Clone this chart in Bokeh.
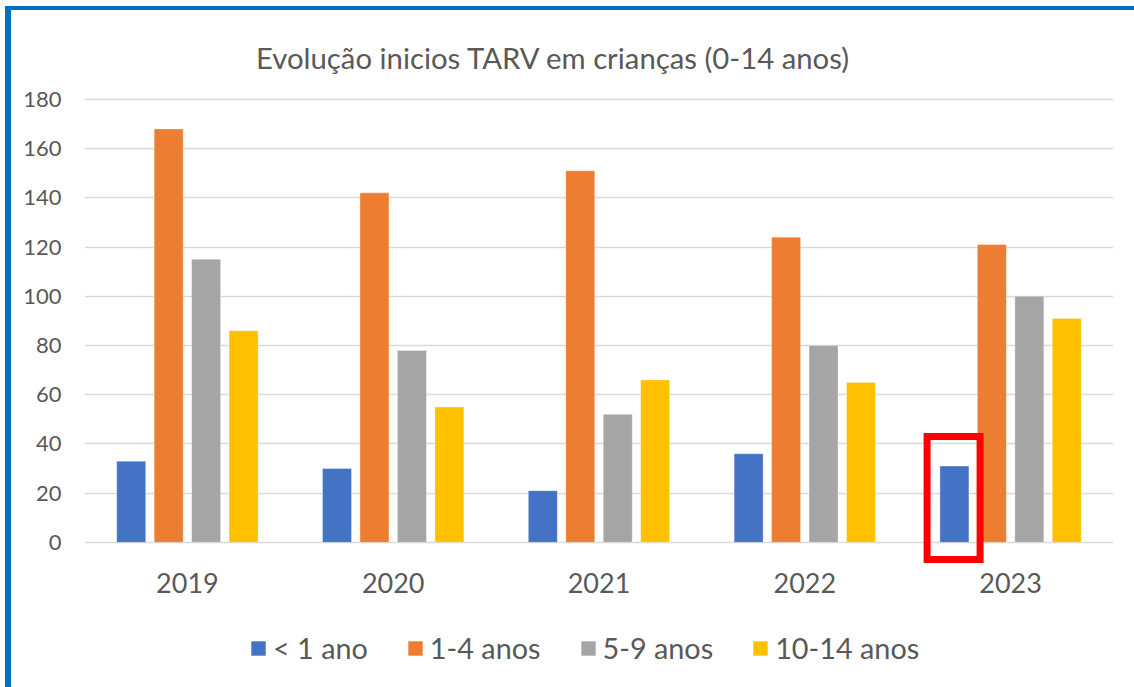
from bokeh.plotting import figure
from bokeh.models import ColumnDataSource, FactorRange, Range1d, Legend, LegendItem, Label
from bokeh.layouts import column
from bokeh.transform import dodge
from bokeh.embed import file_html
from bokeh.resources import INLINE

years = ["2019", "2020", "2021", "2022", "2023"]
lt1 = [33, 30, 21, 36, 31]
a1_4 = [168, 142, 151, 124, 121]
a5_9 = [115, 78, 52, 80, 100]
a10_14 = [86, 55, 66, 65, 91]
series_labels = ["< 1 ano", "1-4 anos", "5-9 anos", "10-14 anos"]
y_ticks = [0, 20, 40, 60, 80, 100, 120, 140, 160, 180]
title_text = "Evolução inicios TARV em crianças (0-14 anos)"
highlight_year = "2023"

colors = ["#4472C4", "#ED7D31", "#A5A5A5", "#FFC000"]
FONT = "Lato"
TXT = "#595959"

src = ColumnDataSource(dict(year=years, s0=lt1, s1=a1_4, s2=a5_9, s3=a10_14))

p = figure(width=1123, height=599, x_range=FactorRange(*years), y_range=Range1d(-9, 216.1),
           output_backend="svg", toolbar_location=None,
           min_border_left=73, min_border_right=21, min_border_top=0, min_border_bottom=45)
p.outline_line_color = None
p.background_fill_color = "white"
p.border_fill_color = "white"

offsets = [-0.273, -0.091, 0.091, 0.273]
bar_w = 0.141
for i, col in enumerate(["s0", "s1", "s2", "s3"]):
    p.vbar(x=dodge("year", offsets[i], range=p.x_range), top=col, width=bar_w, bottom=0,
           source=src, fill_color=colors[i], line_color="white", line_alpha=0.35, line_width=1)

# highlight box around the 2023 "< 1 ano" bar
hsrc = ColumnDataSource(dict(year=[highlight_year], yc=[18], h=[50]))
p.rect(x=dodge("year", -0.277, range=p.x_range), y="yc", width=0.2575, height="h", source=hsrc,
       fill_color=None, line_color="#FF0000", line_width=7, line_join="miter")

# axes
p.yaxis.ticker = y_ticks
p.yaxis.axis_line_color = None
p.yaxis.major_tick_line_color = None
p.yaxis.minor_tick_line_color = None
p.yaxis.major_label_text_font = FONT
p.yaxis.major_label_text_font_size = "22px"
p.yaxis.major_label_text_color = TXT
p.yaxis.major_label_standoff = 17

p.xaxis.axis_line_color = None
p.xaxis.major_tick_line_color = None
p.xaxis.minor_tick_line_color = None
p.xaxis.major_label_text_font = FONT
p.xaxis.major_label_text_font_size = "27px"
p.xaxis.major_label_text_color = TXT
p.xaxis.major_label_standoff = 2

p.xgrid.grid_line_color = None
p.ygrid.ticker = y_ticks
p.ygrid.grid_line_color = "#D9D9D9"
p.ygrid.grid_line_width = 1.6

# chart title
p.add_layout(Label(x=2.279, y=197.1, text=title_text, text_align="center", text_baseline="alphabetic",
                   text_font=FONT, text_font_size="29.3px", text_color=TXT))

# legend strip (its frame is aligned with the main chart's frame by the column layout)
lf = figure(width=1123, height=78, x_range=Range1d(0, 1), y_range=Range1d(0, 1),
            output_backend="svg", toolbar_location=None, x_axis_location=None, y_axis_location=None,
            min_border_left=0, min_border_right=0, min_border_top=0, min_border_bottom=0)
lf.outline_line_color = None
lf.xgrid.grid_line_color = None
lf.ygrid.grid_line_color = None
legend_src = ColumnDataSource(dict(x=[-1], top=[0]))
items = []
for i in range(4):
    r = lf.vbar(x="x", top="top", bottom=0, width=0.1, source=legend_src, fill_color=colors[i], line_color=None)
    items.append(LegendItem(label=series_labels[i], renderers=[r]))
legend = Legend(items=items, orientation="horizontal", location=(165, 22),
                label_text_font=FONT, label_text_font_size="28.8px", label_text_color=TXT,
                glyph_width=18, glyph_height=18, label_standoff=6, spacing=38, label_width=0,
                padding=0, margin=0, border_line_color=None, background_fill_alpha=0)
lf.add_layout(legend)

layout = column(p, lf, spacing=0)
layout.styles = {"margin-left": "5px", "margin-top": "6px",
                 "border-left": "6px solid #0070C0", "border-top": "4px solid #0070C0"}

open("out.html", "w").write(file_html(layout, INLINE))
